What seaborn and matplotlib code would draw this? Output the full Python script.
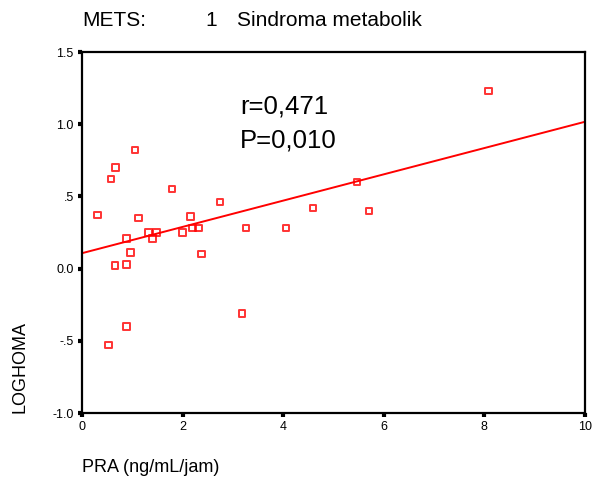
import numpy as np
import pandas as pd
import matplotlib
matplotlib.use("Agg")
import matplotlib.pyplot as plt
import seaborn as sns

# PRA (ng/mL/jam) and log HOMA for the metabolic-syndrome group (n = 29;
# one case sits underneath the P-value label)
pra = [0.31, 0.58, 0.67, 1.05, 0.66, 0.88, 0.88, 0.96, 1.12, 0.88, 0.53,
       1.79, 1.32, 1.40, 1.48, 2.00, 2.16, 2.20, 2.32, 2.38, 2.74, 3.26,
       3.18, 4.06, 4.59, 5.47, 5.71, 8.08, 3.22]
loghoma = [0.37, 0.62, 0.70, 0.82, 0.02, 0.03, 0.21, 0.11, 0.35, -0.40, -0.53,
           0.55, 0.25, 0.21, 0.25, 0.25, 0.36, 0.28, 0.28, 0.10, 0.46, 0.28,
           -0.31, 0.28, 0.42, 0.60, 0.40, 1.23, 0.905]

x_ticks = [0, 2, 4, 6, 8, 10]
x_tick_labels = ["0", "2", "4", "6", "8", "10"]
y_ticks = [-1.0, -0.5, 0.0, 0.5, 1.0, 1.5]
y_tick_labels = ["-1.0", "-.5", "0.0", ".5", "1.0", "1.5"]

r_text = "r=0,471"
p_text = "P=0,010"

df = pd.DataFrame({"PRA": pra, "LOGHOMA": loghoma})

sns.set_style("white", {"text.color": "black", "axes.labelcolor": "black",
                        "xtick.color": "black", "ytick.color": "black",
                        "axes.edgecolor": "black"})
plt.rcParams["font.family"] = ["Liberation Sans", "DejaVu Sans"]

fig = plt.figure(figsize=(5.92, 4.83), dpi=100)
ax = fig.add_axes([0.1385, 0.1449, 0.8497, 0.7474])
ax.set_xlim(0, 10)
ax.set_ylim(-1.0, 1.5)

red = "#ff0000"
sns.regplot(data=df, x="PRA", y="LOGHOMA", ax=ax, ci=None, truncate=False,
            marker="s",
            scatter_kws=dict(s=22, facecolors="none", edgecolors=red,
                             linewidths=1.4),
            line_kws=dict(color=red, lw=1.4))

ax.set_xticks(x_ticks)
ax.set_xticklabels(x_tick_labels)
ax.set_yticks(y_ticks)
ax.set_yticklabels(y_tick_labels)
ax.tick_params(axis="both", direction="out", length=3, width=3,
               color="black", labelsize=9, pad=3,
               bottom=True, left=True, top=False, right=False)

for s in ax.spines.values():
    s.set_visible(True)
    s.set_color("black")
    s.set_linewidth(1.6)

ax.set_xlabel("PRA (ng/mL/jam)", fontsize=13, loc="left", va="center")
ax.xaxis.set_label_coords(0.0, -0.150)
ax.set_ylabel("LOGHOMA", fontsize=13, va="center", ha="center")
ax.yaxis.set_label_coords(-0.123, 0.127)

ax.text(3.14, 1.12, r_text, fontsize=18.5, va="center", ha="left",
        zorder=5)
ax.text(3.14, 0.887, p_text, fontsize=18.5, va="center", ha="left",
        zorder=5,
        bbox=dict(facecolor="white", edgecolor="none", pad=4))

fig.text(82 / 592, 1 - 20 / 483, "METS:", fontsize=15, va="center")
fig.text(205 / 592, 1 - 20 / 483, "1", fontsize=15, va="center")
fig.text(237 / 592, 1 - 20 / 483, "Sindroma metabolik", fontsize=15,
         va="center")

fig.savefig("out.png", dpi=100)
